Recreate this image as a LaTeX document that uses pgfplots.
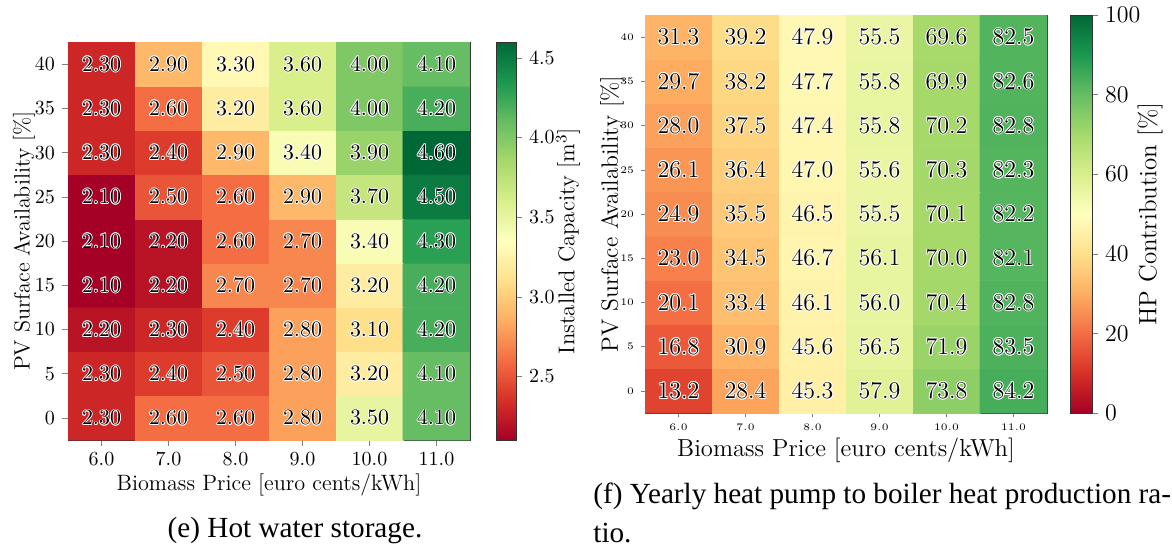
\documentclass[border=0pt]{standalone}
\usepackage{fontspec}
\usepackage{pgfplots}
\usepackage{pgfplotstable}
\pgfplotsset{compat=1.18}
\newfontfamily\capfont{Liberation Serif}

% black value labels with a thin white halo
\newcommand\halo[1]{%
  \makebox[0pt]{\color{white}\raisebox{0.45pt}{#1}}%
  \makebox[0pt]{\color{white}\raisebox{-0.45pt}{#1}}%
  \makebox[0pt]{\color{white}\hspace*{0.9pt}#1}%
  \makebox[0pt]{\color{white}#1\hspace*{0.9pt}}%
  \makebox[0pt]{\color{white}\raisebox{0.32pt}{\hspace*{0.64pt}#1}}%
  \makebox[0pt]{\color{white}\raisebox{0.32pt}{#1\hspace*{0.64pt}}}%
  \makebox[0pt]{\color{white}\raisebox{-0.32pt}{\hspace*{0.64pt}#1}}%
  \makebox[0pt]{\color{white}\raisebox{-0.32pt}{#1\hspace*{0.64pt}}}%
  \makebox[0pt]{#1}}

\pgfplotsset{
  colormap={RdYlGn}{rgb255=(165,0,38) rgb255=(215,48,39) rgb255=(244,109,67)
    rgb255=(253,174,97) rgb255=(254,224,139) rgb255=(255,255,191)
    rgb255=(217,239,139) rgb255=(166,217,106) rgb255=(102,189,99)
    rgb255=(26,152,80) rgb255=(0,104,55)},
  heat/.style={
    scale only axis, width=201pt, height=199pt,
    xmin=5.5, xmax=11.5, ymin=-2.5, ymax=42.5,
    xtick={6,7,8,9,10,11}, ytick={0,5,...,40},
    xticklabel={\pgfmathprintnumber[fixed,fixed zerofill,precision=1]{\tick}},
    tick align=outside, tick pos=left,
    major tick length=3pt,
    axis line style={black!80},
    xlabel={Biomass Price [euro cents/kWh]},
    ylabel={PV Surface Availability [\%]},
    colormap name=RdYlGn, colorbar,
    enlargelimits=false,
  },
  cbar/.style={
    at={(parent axis.north east)}, anchor=north west,
    xtick=\empty, ytick pos=right, yticklabel pos=right,
    tick align=outside, major tick length=3pt,
    axis line style={black!80},
  },
}

% Hot water storage: installed capacity [m^3]
\pgfplotstableread{
x y c
6 0 2.30
7 0 2.60
8 0 2.60
9 0 2.80
10 0 3.50
11 0 4.10
6 5 2.30
7 5 2.40
8 5 2.50
9 5 2.80
10 5 3.20
11 5 4.10
6 10 2.20
7 10 2.30
8 10 2.40
9 10 2.80
10 10 3.10
11 10 4.20
6 15 2.10
7 15 2.20
8 15 2.70
9 15 2.70
10 15 3.20
11 15 4.20
6 20 2.10
7 20 2.20
8 20 2.60
9 20 2.70
10 20 3.40
11 20 4.30
6 25 2.10
7 25 2.50
8 25 2.60
9 25 2.90
10 25 3.70
11 25 4.50
6 30 2.30
7 30 2.40
8 30 2.90
9 30 3.40
10 30 3.90
11 30 4.60
6 35 2.30
7 35 2.60
8 35 3.20
9 35 3.60
10 35 4.00
11 35 4.20
6 40 2.30
7 40 2.90
8 40 3.30
9 40 3.60
10 40 4.00
11 40 4.10
}\storage

% Heat pump share of yearly heat production [%]
\pgfplotstableread{
x y c
6 0 13.2
7 0 28.4
8 0 45.3
9 0 57.9
10 0 73.8
11 0 84.2
6 5 16.8
7 5 30.9
8 5 45.6
9 5 56.5
10 5 71.9
11 5 83.5
6 10 20.1
7 10 33.4
8 10 46.1
9 10 56.0
10 10 70.4
11 10 82.8
6 15 23.0
7 15 34.5
8 15 46.7
9 15 56.1
10 15 70.0
11 15 82.1
6 20 24.9
7 20 35.5
8 20 46.5
9 20 55.5
10 20 70.1
11 20 82.2
6 25 26.1
7 25 36.4
8 25 47.0
9 25 55.6
10 25 70.3
11 25 82.3
6 30 28.0
7 30 37.5
8 30 47.4
9 30 55.8
10 30 70.2
11 30 82.8
6 35 29.7
7 35 38.2
8 35 47.7
9 35 55.8
10 35 69.9
11 35 82.6
6 40 31.3
7 40 39.2
8 40 47.9
9 40 55.5
10 40 69.6
11 40 82.5
}\hpshare

\begin{document}
\begin{tikzpicture}
\useasboundingbox (0,0) rectangle (586pt,-276.5pt);

% (e) hot water storage
\begin{axis}[heat,
  at={(34pt,-220pt)}, anchor=south west,
  point meta min=2.1, point meta max=4.6,
  tick label style={font=\fontsize{10.4}{12}\selectfont},
  label style={font=\fontsize{11.1}{13}\selectfont},
  xlabel style={at={([yshift=-22.5pt]rel axis cs:0.5,0)}, anchor=center},
  ylabel style={at={([xshift=-22pt]rel axis cs:0,0.5)}, anchor=center},
  colorbar style={cbar, xshift=4.5pt, width=10pt,
    ytick={2.5,3.0,...,4.5},
    yticklabel={\pgfmathprintnumber[fixed,fixed zerofill,precision=1]{\tick}},
    tick label style={font=\fontsize{10.4}{12}\selectfont},
    ylabel={Installed Capacity [m$^3$]},
    ylabel style={font=\fontsize{11.4}{13}\selectfont,
      at={([xshift=26pt]rel axis cs:1,0.5)}, anchor=center},
  },
]
\addplot[matrix plot*, mesh/cols=6, point meta=explicit]
  table[x=x, y=y, meta=c]{\storage};
\addplot[only marks, mark=none, point meta=explicit,
  nodes near coords={\halo{\pgfmathprintnumber[fixed,fixed zerofill,precision=2]{\pgfplotspointmeta}}},
  nodes near coords align=center,
  every node near coord/.append style={anchor=center, font=\fontsize{10.9}{12}\selectfont}]
  table[x=x, y=y, meta=c]{\storage};
\end{axis}

% (f) heat pump to boiler ratio
\begin{axis}[heat,
  at={(322.5pt,-206.5pt)}, anchor=south west,
  point meta min=0, point meta max=100,
  tick label style={font=\fontsize{3}{3.6}\selectfont},
  major tick length=2pt,
  xlabel style={font=\fontsize{12.3}{15}\selectfont,
    at={([yshift=-18.5pt]rel axis cs:0.5,0)}, anchor=center},
  ylabel style={font=\fontsize{11.8}{14}\selectfont,
    at={([xshift=-16.5pt]rel axis cs:0,0.5)}, anchor=center},
  colorbar style={cbar, xshift=3pt, width=11pt,
    ytick={0,20,...,100},
    tick label style={font=\fontsize{11.7}{14}\selectfont},
    ylabel={HP Contribution [\%]},
    ylabel style={font=\fontsize{12.5}{15}\selectfont,
      at={([xshift=29pt]rel axis cs:1,0.5)}, anchor=center},
  },
]
\addplot[matrix plot*, mesh/cols=6, point meta=explicit]
  table[x=x, y=y, meta=c]{\hpshare};
\addplot[only marks, mark=none, point meta=explicit,
  nodes near coords={\halo{\pgfmathprintnumber[fixed,fixed zerofill,precision=1]{\pgfplotspointmeta}}},
  nodes near coords align=center,
  every node near coord/.append style={anchor=center, font=\fontsize{11.6}{13}\selectfont}]
  table[x=x, y=y, meta=c]{\hpshare};
\end{axis}

% sub-captions
\node[anchor=base, font=\capfont\fontsize{14.6}{17}\selectfont] at (147.5pt,-268.5pt)
  {(e) Hot water storage.};
\node[anchor=base west, font=\capfont\fontsize{14.6}{17}\selectfont, inner sep=0pt] at (296.5pt,-251.5pt)
  {(f) Yearly heat pump to boiler heat production ra-};
\node[anchor=base west, font=\capfont\fontsize{14.6}{17}\selectfont, inner sep=0pt] at (296.5pt,-271pt)
  {tio.};
\end{tikzpicture}
\end{document}
